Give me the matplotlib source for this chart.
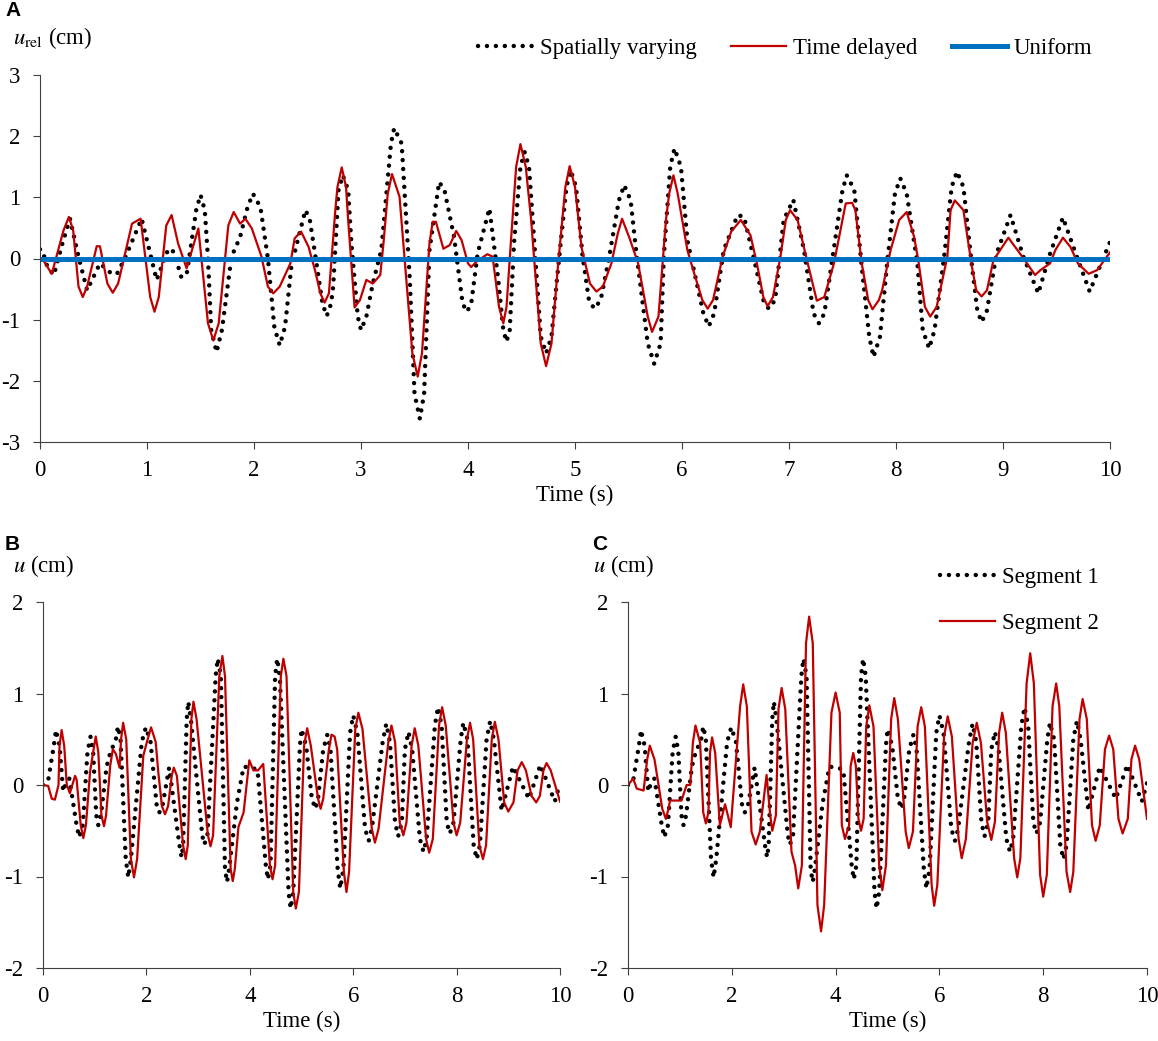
import matplotlib
matplotlib.use('Agg')
from matplotlib import pyplot as plt

plt.rcParams['font.family'] = ['Liberation Serif', 'DejaVu Serif']
plt.rcParams['mathtext.fontset'] = 'stix'
plt.rcParams['axes.unicode_minus'] = False

# panel A: relative displacement
a_sv_t = [0, 0.02, 0.07, 0.13, 0.21, 0.28, 0.36, 0.44, 0.56, 0.67,
          0.72, 0.80, 0.95, 1.09, 1.20, 1.25, 1.32, 1.37, 1.46, 1.50,
          1.54, 1.57, 1.60, 1.65, 1.70, 1.79, 1.87, 1.94, 1.99, 2.06,
          2.13, 2.19, 2.24, 2.29, 2.35, 2.48, 2.52, 2.58, 2.64, 2.68,
          2.72, 2.74, 2.79, 2.83, 2.88, 2.91, 2.97, 3.00, 3.05, 3.11,
          3.19, 3.28, 3.31, 3.38, 3.455, 3.50, 3.55, 3.59, 3.64, 3.73,
          3.78, 3.87, 3.95, 3.99, 4.03, 4.09, 4.20, 4.28, 4.33, 4.36,
          4.39, 4.43, 4.49, 4.53, 4.57, 4.62, 4.68, 4.73, 4.78, 4.84,
          4.92, 4.96, 5.01, 5.07, 5.13, 5.18, 5.24, 5.32, 5.41, 5.46,
          5.52, 5.57, 5.68, 5.74, 5.80, 5.83, 5.89, 5.93, 5.99, 6.05,
          6.20, 6.25, 6.30, 6.39, 6.52, 6.58, 6.69, 6.76, 6.81, 6.87,
          6.95, 7.04, 7.14, 7.23, 7.28, 7.33, 7.45, 7.50, 7.54, 7.61,
          7.68, 7.75, 7.79, 7.85, 7.92, 7.99, 8.04, 8.10, 8.20, 8.25,
          8.31, 8.36, 8.45, 8.52, 8.57, 8.63, 8.70, 8.76, 8.80, 8.85,
          8.94, 9.07, 9.19, 9.33, 9.44, 9.56, 9.69, 9.81, 10.0]
a_sv_u = [0.15, 0.14, -0.14, -0.27, 0.25, 0.65, 0.03, -0.52, -0.08, -0.25,
          -0.25, 0.03, 0.65, -0.35, 0.16, 0.11, -0.30, -0.27, 0.79, 1.04,
          0.79, 0.0, -1.17, -1.53, -1.17, 0.03, 0.35, 0.84, 1.06, 0.84,
          0.0, -1.12, -1.42, -1.12, -0.11, 0.79, 0.65, -0.03, -0.74, -0.94,
          -0.74, -0.46, 1.12, 1.36, 1.12, 0.25, -0.95, -1.17, -0.95, -0.41,
          0.14, 1.88, 2.13, 1.88, -0.30, -2.21, -2.62, -2.21, 0.14, 1.25,
          1.12, 0.35, -0.74, -0.87, -0.74, 0.08, 0.82, -0.30, -1.17, -1.36,
          -1.17, 0.25, 1.50, 1.74, 1.50, 0.25, -1.28, -1.55, -1.28, -0.19,
          1.17, 1.44, 1.17, 0.05, -0.68, -0.82, -0.68, 0.03, 0.95, 1.20,
          0.95, 0.14, -1.39, -1.72, -1.39, 0.03, 1.50, 1.80, 1.50, 0.30,
          -0.90, -1.11, -0.90, 0.14, 0.71, 0.68, -0.14, -0.68, -0.82, -0.68,
          0.63, 0.96, 0.14, -0.90, -1.06, -0.90, 0.52, 1.12, 1.36, 1.12,
          -0.14, -1.28, -1.61, -1.28, -0.03, 1.06, 1.31, 1.06, -0.08, -1.17,
          -1.47, -1.17, 0.03, 1.17, 1.42, 1.17, 0.03, -0.85, -1.04, -0.85,
          0.08, 0.71, 0.03, -0.57, 0.08, 0.67, 0.03, -0.54, 0.27]

a_td_t = [0, 0.02, 0.11, 0.22, 0.27, 0.31, 0.36, 0.40, 0.44, 0.53,
          0.56, 0.63, 0.68, 0.73, 0.86, 0.94, 1.03, 1.07, 1.11, 1.18,
          1.23, 1.29, 1.37, 1.48, 1.57, 1.62, 1.67, 1.76, 1.81, 1.87,
          1.92, 1.98, 2.07, 2.13, 2.18, 2.24, 2.34, 2.38, 2.44, 2.51,
          2.57, 2.62, 2.66, 2.70, 2.76, 2.78, 2.82, 2.86, 2.88, 2.94,
          2.99, 3.05, 3.11, 3.18, 3.21, 3.25, 3.29, 3.36, 3.48, 3.53,
          3.57, 3.64, 3.67, 3.70, 3.77, 3.83, 3.89, 3.94, 4.00, 4.03,
          4.08, 4.18, 4.23, 4.29, 4.33, 4.36, 4.40, 4.45, 4.49, 4.54,
          4.59, 4.68, 4.73, 4.78, 4.84, 4.91, 4.95, 5.00, 5.06, 5.14,
          5.20, 5.26, 5.34, 5.40, 5.44, 5.51, 5.59, 5.68, 5.72, 5.78,
          5.85, 5.88, 5.92, 5.96, 6.05, 6.11, 6.19, 6.24, 6.29, 6.38,
          6.46, 6.55, 6.64, 6.70, 6.76, 6.80, 6.85, 6.92, 6.97, 7.01,
          7.08, 7.16, 7.26, 7.33, 7.42, 7.53, 7.59, 7.62, 7.68, 7.74,
          7.78, 7.84, 7.87, 7.95, 8.03, 8.10, 8.17, 8.21, 8.27, 8.32,
          8.38, 8.48, 8.51, 8.55, 8.63, 8.71, 8.75, 8.80, 8.85, 8.91,
          9.05, 9.18, 9.30, 9.35, 9.44, 9.49, 9.56, 9.63, 9.70, 9.80,
          9.88, 10.0]
a_td_u = [0.0, 0.0, -0.25, 0.46, 0.68, 0.46, -0.46, -0.63, -0.46, 0.20,
          0.20, -0.41, -0.56, -0.41, 0.57, 0.65, -0.63, -0.87, -0.63, 0.54,
          0.71, 0.25, -0.16, 0.49, -1.06, -1.34, -1.06, 0.54, 0.76, 0.57,
          0.65, 0.49, 0.03, -0.46, -0.57, -0.46, -0.08, 0.33, 0.44, 0.19,
          -0.19, -0.57, -0.72, -0.57, 0.79, 1.17, 1.49, 1.17, 0.63, -0.80,
          -0.68, -0.35, -0.41, -0.27, 0.25, 1.06, 1.38, 1.01, -1.55, -1.93,
          -1.55, 0.25, 0.60, 0.60, 0.16, 0.22, 0.45, 0.30, -0.08, -0.14,
          -0.05, 0.07, 0.03, -0.79, -1.06, -0.79, 0.25, 1.50, 1.87, 1.50,
          0.63, -1.39, -1.76, -1.39, -0.14, 1.17, 1.51, 1.17, 0.19, -0.41,
          -0.54, -0.46, -0.08, 0.41, 0.65, 0.33, -0.08, -0.95, -1.20, -0.95,
          0.63, 1.06, 1.36, 1.06, 0.14, -0.22, -0.68, -0.82, -0.68, 0.03,
          0.44, 0.63, 0.38, -0.08, -0.63, -0.78, -0.63, 0.03, 0.63, 0.79,
          0.63, 0.03, -0.69, -0.63, -0.08, 0.90, 0.91, 0.79, -0.08, -0.68,
          -0.83, -0.68, -0.52, 0.14, 0.63, 0.76, 0.35, -0.05, -0.79, -0.95,
          -0.79, 0.03, 0.79, 0.95, 0.79, -0.14, -0.52, -0.62, -0.52, -0.03,
          0.34, 0.03, -0.27, -0.19, -0.08, 0.14, 0.34, 0.19, -0.08, -0.25,
          -0.19, 0.10]

a_uni_t = [0, 10]
a_uni_u = [0, 0]

# panels B, C: segment displacements (segment 1 is the same in both)
seg1_t = [0, 0.10, 0.21, 0.25, 0.32, 0.39, 0.45, 0.51, 0.65, 0.70,
          0.77, 0.86, 0.92, 0.97, 1.03, 1.07, 1.12, 1.23, 1.30, 1.41,
          1.45, 1.50, 1.60, 1.65, 1.70, 1.91, 1.99, 2.08, 2.20, 2.25,
          2.31, 2.44, 2.64, 2.68, 2.71, 2.78, 2.81, 2.86, 3.08, 3.12,
          3.18, 3.34, 3.38, 3.44, 3.52, 3.56, 3.60, 3.75, 3.88, 4.05,
          4.15, 4.31, 4.35, 4.40, 4.49, 4.53, 4.58, 4.75, 4.79, 4.84,
          4.97, 5.00, 5.09, 5.20, 5.27, 5.32, 5.42, 5.50, 5.56, 5.70,
          5.75, 5.81, 5.94, 6.00, 6.08, 6.23, 6.30, 6.36, 6.57, 6.64,
          6.71, 6.81, 6.87, 6.94, 7.00, 7.07, 7.14, 7.29, 7.36, 7.42,
          7.58, 7.64, 7.71, 7.81, 7.87, 7.94, 8.08, 8.13, 8.21, 8.33,
          8.39, 8.45, 8.58, 8.65, 8.72, 8.87, 9.09, 9.40, 9.62, 9.90,
          10.0]
seg1_u = [0, 0.05, 0.43, 0.60, 0.43, -0.07, 0.03, 0.07, -0.44, -0.57,
          -0.44, 0.36, 0.53, 0.36, -0.33, -0.44, -0.33, 0.20, 0.35, 0.50,
          0.64, 0.50, -0.81, -1.01, -0.81, 0.47, 0.63, 0.47, -0.23, -0.30,
          -0.23, 0.19, -0.66, -0.79, -0.66, 0.72, 0.91, 0.72, -0.55, -0.65,
          -0.55, 1.19, 1.38, 1.19, -0.92, -1.06, -0.92, -0.20, 0.20, 0.19,
          0.16, -0.88, -1.03, -0.88, 1.19, 1.38, 1.19, -1.17, -1.35, -1.17,
          0.43, 0.61, 0.43, -0.15, -0.26, -0.15, 0.39, 0.55, 0.39, -0.92,
          -1.13, -0.92, 0.57, 0.76, 0.57, -0.48, -0.61, -0.48, 0.47, 0.67,
          0.47, -0.41, -0.56, -0.41, 0.39, 0.58, 0.39, -0.59, -0.73, -0.59,
          0.65, 0.85, 0.65, -0.41, -0.53, -0.41, 0.50, 0.68, 0.50, -0.66,
          -0.81, -0.66, 0.50, 0.70, 0.50, -0.28, 0.20, -0.15, 0.22, -0.18,
          0.02]

b_seg2_t = [0, 0.10, 0.17, 0.23, 0.30, 0.32, 0.36, 0.41, 0.46, 0.52,
            0.62, 0.65, 0.73, 0.78, 0.83, 0.91, 0.97, 1.02, 1.07, 1.13,
            1.18, 1.22, 1.30, 1.35, 1.41, 1.48, 1.51, 1.55, 1.61, 1.70,
            1.76, 1.82, 1.94, 2.01, 2.09, 2.18, 2.23, 2.30, 2.36, 2.42,
            2.49, 2.53, 2.59, 2.71, 2.76, 2.80, 2.87, 2.91, 2.97, 3.19,
            3.24, 3.29, 3.41, 3.47, 3.52, 3.63, 3.67, 3.71, 3.78, 3.88,
            3.99, 4.07, 4.16, 4.26, 4.39, 4.44, 4.49, 4.60, 4.65, 4.71,
            4.84, 4.89, 4.95, 5.05, 5.11, 5.18, 5.32, 5.37, 5.42, 5.53,
            5.58, 5.64, 5.69, 5.82, 5.87, 5.92, 6.04, 6.10, 6.18, 6.36,
            6.42, 6.49, 6.68, 6.74, 6.81, 6.90, 6.97, 7.03, 7.13, 7.19,
            7.26, 7.41, 7.47, 7.54, 7.66, 7.72, 7.79, 7.94, 8.00, 8.07,
            8.20, 8.26, 8.32, 8.44, 8.51, 8.57, 8.68, 8.74, 8.81, 8.92,
            9.00, 9.10, 9.18, 9.26, 9.34, 9.45, 9.54, 9.61, 9.68, 9.74,
            9.82, 10.0]
b_seg2_u = [0, -0.01, -0.15, -0.16, 0.0, 0.43, 0.60, 0.43, 0.0, -0.09,
            0.10, 0.06, -0.44, -0.58, -0.44, 0.14, 0.36, 0.53, 0.36, -0.33,
            -0.45, -0.33, 0.21, 0.39, 0.34, 0.19, 0.50, 0.68, 0.50, -0.81,
            -1.01, -0.81, 0.32, 0.47, 0.63, 0.47, 0.14, -0.23, -0.32, -0.23,
            0.10, 0.19, 0.10, -0.66, -0.81, -0.66, 0.72, 0.91, 0.72, -0.55,
            -0.67, -0.55, 1.19, 1.41, 1.19, -0.92, -1.05, -0.92, -0.46, -0.30,
            0.27, 0.16, 0.16, 0.23, -0.88, -1.03, -0.88, 1.19, 1.38, 1.19,
            -1.17, -1.35, -1.17, 0.43, 0.62, 0.43, -0.15, -0.26, -0.15, 0.39,
            0.55, 0.53, 0.39, -0.95, -1.17, -0.95, 0.61, 0.79, 0.61, -0.48,
            -0.63, -0.48, 0.47, 0.65, 0.47, -0.41, -0.55, -0.41, 0.43, 0.62,
            0.43, -0.59, -0.74, -0.59, 0.65, 0.85, 0.65, -0.41, -0.55, -0.41,
            0.50, 0.68, 0.50, -0.66, -0.81, -0.66, 0.50, 0.69, 0.50, -0.19,
            -0.29, -0.19, 0.16, 0.25, 0.16, -0.12, -0.19, -0.12, 0.16, 0.24,
            0.16, -0.18]

c_seg2_t = [0, 0.10, 0.17, 0.30, 0.37, 0.42, 0.51, 0.55, 0.66, 0.73,
            0.78, 0.81, 1.03, 1.13, 1.20, 1.25, 1.30, 1.39, 1.45, 1.50,
            1.55, 1.58, 1.62, 1.68, 1.77, 1.87, 1.98, 2.16, 2.22, 2.29,
            2.38, 2.46, 2.54, 2.67, 2.74, 2.78, 2.85, 2.90, 2.96, 3.03,
            3.15, 3.22, 3.28, 3.35, 3.43, 3.49, 3.56, 3.65, 3.72, 3.78,
            3.92, 4.00, 4.08, 4.12, 4.18, 4.26, 4.29, 4.34, 4.39, 4.44,
            4.49, 4.54, 4.59, 4.65, 4.73, 4.84, 4.90, 4.97, 5.07, 5.13,
            5.20, 5.35, 5.41, 5.49, 5.58, 5.65, 5.72, 5.85, 5.90, 5.96,
            6.09, 6.16, 6.24, 6.37, 6.43, 6.51, 6.64, 6.72, 6.80, 6.92,
            7.00, 7.07, 7.15, 7.21, 7.28, 7.44, 7.50, 7.56, 7.68, 7.75,
            7.82, 7.94, 8.00, 8.07, 8.18, 8.25, 8.31, 8.45, 8.52, 8.58,
            8.70, 8.76, 8.84, 8.94, 9.01, 9.09, 9.19, 9.27, 9.35, 9.45,
            9.53, 9.63, 9.70, 9.77, 9.85, 10.0]
c_seg2_u = [0, 0.07, -0.04, -0.06, 0.28, 0.43, 0.28, 0.14, -0.26, -0.37,
            -0.26, -0.17, -0.17, 0.0, 0.0, 0.46, 0.65, 0.46, -0.30, -0.42,
            -0.30, 0.35, 0.52, 0.35, -0.44, -0.21, -0.46, 0.86, 1.10, 0.86,
            -0.51, -0.65, -0.51, 0.11, -0.33, -0.50, -0.33, 0.83, 1.06, 0.83,
            -0.73, -0.88, -1.13, -0.88, 1.55, 1.84, 1.55, -1.31, -1.60, -1.31,
            0.79, 1.01, 0.79, -0.44, -0.59, -0.44, 0.21, 0.35, 0.21, -0.37,
            -0.50, -0.37, 0.64, 0.87, 0.64, -0.88, -1.15, -0.88, 0.72, 0.95,
            0.72, -0.51, -0.69, -0.51, 0.64, 0.85, 0.64, -1.09, -1.32, -1.09,
            0.53, 0.75, 0.53, -0.59, -0.80, -0.59, 0.46, 0.68, 0.46, -0.40,
            -0.60, -0.40, 0.57, 0.79, 0.57, -0.80, -1.01, -0.80, 1.11, 1.44,
            1.11, -0.98, -1.22, -0.98, 0.86, 1.11, 0.86, -0.95, -1.17, -0.95,
            0.72, 0.94, 0.72, -0.44, -0.61, -0.44, 0.39, 0.54, 0.39, -0.37,
            -0.53, -0.37, 0.28, 0.43, 0.28, -0.37]

RED = '#C00000'
BLUE = '#0070C0'
DOT = dict(color='black', lw=3.2, linestyle=(0, (0.01, 2.0)), dash_capstyle='round')
FS = 16.5
W, H = 1158, 1041

fig = plt.figure(figsize=(W / 100, H / 100), dpi=100)


def style_axes(ax, ymin, ymax, xstep):
    ax.spines['top'].set_visible(False)
    ax.spines['right'].set_visible(False)
    ax.spines['left'].set_color('#404040')
    ax.spines['bottom'].set_color('#404040')
    ax.set_xlim(0, 10)
    ax.set_ylim(ymin, ymax)
    ax.set_xticks(range(0, 11, xstep))
    ax.set_yticks(range(ymin, ymax + 1))
    ax.tick_params(axis='both', labelsize=FS, direction='out', length=5, color='#404040')
    ax.tick_params(axis='x', pad=8)
    ax.tick_params(axis='y', pad=9)
    ax.set_xlabel('Time (s)', fontsize=FS, labelpad=3)


# A
axA = fig.add_axes([40 / W, 1 - 442 / H, 1070 / W, 367 / H])
axA.plot(a_sv_t, a_sv_u, label='Spatially varying', solid_joinstyle='round', **DOT)
axA.plot(a_td_t, a_td_u, color=RED, lw=1.6, solid_joinstyle='round', label='Time delayed')
axA.plot(a_uni_t, a_uni_u, color=BLUE, lw=3.6, label='Uniform')
style_axes(axA, -3, 3, 1)
axA.legend(loc='center right', bbox_to_anchor=(1104 / W, 1 - 48 / H),
           bbox_transform=fig.transFigure, ncol=3, frameon=False, fontsize=FS,
           borderpad=0, handlelength=2.4, columnspacing=1.5, handletextpad=0.3)

# B
axB = fig.add_axes([43 / W, 1 - 968 / H, 517 / W, 366 / H])
axB.plot(seg1_t, seg1_u, **DOT)
axB.plot(b_seg2_t, b_seg2_u, color=RED, lw=1.6, solid_joinstyle='round')
style_axes(axB, -2, 2, 2)

# C
axC = fig.add_axes([628 / W, 1 - 968 / H, 519 / W, 366 / H])
axC.plot(seg1_t, seg1_u, label='Segment 1', **DOT)
axC.plot(c_seg2_t, c_seg2_u, color=RED, lw=1.6, solid_joinstyle='round', label='Segment 2')
style_axes(axC, -2, 2, 2)
axC.legend(loc='upper right', bbox_to_anchor=(1110 / W, 1 - 556 / H),
           bbox_transform=fig.transFigure, frameon=False, fontsize=FS, borderpad=0,
           handlelength=2.4, handletextpad=0.3, labelspacing=1.05)

# panel letters and axis titles
for x, y, letter in [(5, 11, 'A'), (5, 545, 'B'), (592, 545, 'C')]:
    fig.text(x / W, 1 - y / H, letter, fontsize=15, fontweight='bold',
             family=['Liberation Sans'], va='center', ha='left')
fig.text(13 / W, 1 - 38 / H, r'$u_{\mathrm{rel}}$ (cm)', fontsize=FS, va='center')
fig.text(13 / W, 1 - 566 / H, r'$u$ (cm)', fontsize=FS, va='center')
fig.text(593 / W, 1 - 566 / H, r'$u$ (cm)', fontsize=FS, va='center')

fig.savefig('out.png', dpi=100)
